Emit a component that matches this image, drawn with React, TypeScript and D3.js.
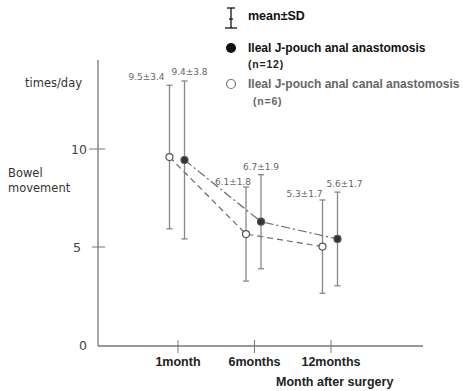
import React, { useRef, useEffect } from 'react';
import * as d3 from 'd3';

// categories on the x axis
const months = ['1month', '6months', '12months'];

// ileal J-pouch anal anastomosis (filled dots, n=12) - plotted means / SD as drawn
const anaMeans = [9.44, 6.29, 5.41];
const anaSD = [4.03, 2.4, 2.39];
const anaLabels = ['9.4±3.8', '6.7±1.9', '5.6±1.7'];

// ileal J-pouch anal canal anastomosis (open dots, n=6)
const canalMeans = [9.59, 5.66, 5.02];
const canalSD = [3.66, 2.4, 2.38];
const canalLabels = ['9.5±3.4', '6.1±1.8', '5.3±1.7'];

const yTicks = [0, 5, 10];

const W = 463;
const H = 391;

const App = () => {
    const svg = useRef<SVGSVGElement>(null);

    useEffect(() => {
        const root = d3.select(svg.current);
        root.selectAll('*').remove();

        const axisX0 = 98;
        const axisY0 = 346;

        const x = d3.scalePoint<string>().domain(months).range([178, 331]);
        const y = d3.scaleLinear().domain([0, 10]).range([345, 149]);

        const bold = "'Liberation Sans', Arial, sans-serif";
        const wide = "'DejaVu Sans', sans-serif";

        // axes lines
        root.append('line')
            .attr('x1', axisX0).attr('y1', 60)
            .attr('x2', axisX0).attr('y2', axisY0)
            .attr('stroke', '#777').attr('stroke-width', 1.3);
        root.append('line')
            .attr('x1', axisX0).attr('y1', axisY0)
            .attr('x2', 423).attr('y2', axisY0)
            .attr('stroke', '#777').attr('stroke-width', 1.3);

        // y ticks
        yTicks.forEach(t => {
            if (t > 0) {
                root.append('line')
                    .attr('x1', t === 10 ? 89 : 92).attr('x2', 105)
                    .attr('y1', y(t)).attr('y2', y(t))
                    .attr('stroke', '#777').attr('stroke-width', 1);
            }
            root.append('text')
                .attr('x', t === 5 ? 81 : 87).attr('y', y(t) + 4.5)
                .attr('text-anchor', 'end')
                .attr('font-family', wide).attr('font-size', 12.5)
                .attr('fill', '#444')
                .text(t);
        });

        // x ticks
        months.forEach(m => {
            root.append('line')
                .attr('x1', x(m)!).attr('x2', x(m)!)
                .attr('y1', 340).attr('y2', 353)
                .attr('stroke', '#777').attr('stroke-width', 1);
            root.append('text')
                .attr('x', x(m)!).attr('y', 366)
                .attr('text-anchor', 'middle')
                .attr('font-family', bold).attr('font-size', 12.5)
                .attr('font-weight', 'bold').attr('fill', '#222')
                .text(m);
        });

        // axis titles
        root.append('text')
            .attr('x', 276).attr('y', 386)
            .attr('font-family', bold).attr('font-size', 12.5)
            .attr('font-weight', 'bold').attr('fill', '#222')
            .text('Month after surgery');
        root.append('text')
            .attr('x', 25).attr('y', 87)
            .attr('font-family', wide).attr('font-size', 11.5)
            .attr('fill', '#333')
            .text('times/day');
        root.append('text')
            .attr('x', 8).attr('y', 177)
            .attr('font-family', wide).attr('font-size', 11.5)
            .attr('fill', '#333')
            .text('Bowel');
        root.append('text')
            .attr('x', 8).attr('y', 192)
            .attr('font-family', wide).attr('font-size', 11.5)
            .attr('fill', '#333')
            .text('movement');

        // each series: dx = offset from the month tick, dash = line style
        const series = [
            { means: canalMeans, sd: canalSD, labels: canalLabels, dx: -8.5, dash: '6,4', filled: false,
              nudge: [[-23, -5], [-13, -2], [-18, -3]] },
            { means: anaMeans, sd: anaSD, labels: anaLabels, dx: 6.5, dash: '9,3,2,3', filled: true,
              nudge: [[5, -6], [0, -5], [7, -5]] },
        ];

        series.forEach(s => {
            const px = (i: number) => x(months[i])! + s.dx;

            // error bars
            s.means.forEach((m, i) => {
                const top = y(m + s.sd[i]);
                const bot = y(m - s.sd[i]);
                const g = root.append('g').attr('stroke', '#888').attr('stroke-width', 1.3);
                g.append('line').attr('x1', px(i)).attr('x2', px(i)).attr('y1', top).attr('y2', bot);
                g.append('line').attr('x1', px(i) - 3).attr('x2', px(i) + 3).attr('y1', top).attr('y2', top);
                g.append('line').attr('x1', px(i) - 3).attr('x2', px(i) + 3).attr('y1', bot).attr('y2', bot);

                root.append('text')
                    .attr('x', px(i) + s.nudge[i][0])
                    .attr('y', top + s.nudge[i][1])
                    .attr('text-anchor', 'middle')
                    .attr('font-family', wide).attr('font-size', 9)
                    .attr('fill', '#666')
                    .text(s.labels[i]);
            });

            // connecting line
            const line = d3.line<number>()
                .x((_, i) => px(i))
                .y(d => y(d));
            root.append('path')
                .datum(s.means)
                .attr('d', line)
                .attr('fill', 'none')
                .attr('stroke', '#666')
                .attr('stroke-width', 1.2)
                .attr('stroke-dasharray', s.dash);

            // points
            s.means.forEach((m, i) => {
                root.append('circle')
                    .attr('cx', px(i)).attr('cy', y(m))
                    .attr('r', 3.5)
                    .attr('fill', s.filled ? '#333' : '#fff')
                    .attr('stroke', '#555')
                    .attr('stroke-width', 1.2);
            });
        });

        // legend
        const lg = root.append('g');
        lg.append('line').attr('x1', 231).attr('x2', 231).attr('y1', 8).attr('y2', 28)
            .attr('stroke', '#111').attr('stroke-width', 1.3);
        lg.append('line').attr('x1', 227).attr('x2', 235).attr('y1', 8).attr('y2', 8)
            .attr('stroke', '#111').attr('stroke-width', 1.3);
        lg.append('line').attr('x1', 225).attr('x2', 237).attr('y1', 28).attr('y2', 28)
            .attr('stroke', '#111').attr('stroke-width', 1.3);
        lg.append('line').attr('x1', 229).attr('x2', 233).attr('y1', 19).attr('y2', 19)
            .attr('stroke', '#111').attr('stroke-width', 1.3);
        lg.append('text').attr('x', 248).attr('y', 20)
            .attr('font-family', bold).attr('font-size', 12.5).attr('font-weight', 'bold')
            .attr('fill', '#111').text('mean±SD');

        lg.append('circle').attr('cx', 231).attr('cy', 48).attr('r', 5).attr('fill', '#111');
        lg.append('text').attr('x', 248).attr('y', 52)
            .attr('font-family', bold).attr('font-size', 12).attr('font-weight', 'bold')
            .attr('fill', '#111').text('Ileal J-pouch anal anastomosis');
        lg.append('text').attr('x', 248).attr('y', 68)
            .attr('font-family', bold).attr('font-size', 10.5).attr('font-weight', 'bold')
            .attr('letter-spacing', 0.8)
            .attr('fill', '#222').text('(n=12)');

        lg.append('circle').attr('cx', 231).attr('cy', 84).attr('r', 4.5)
            .attr('fill', '#fff').attr('stroke', '#777').attr('stroke-width', 1.2);
        lg.append('text').attr('x', 248).attr('y', 88)
            .attr('font-family', bold).attr('font-size', 12).attr('font-weight', 'bold')
            .attr('fill', '#666').text('Ileal J-pouch anal canal anastomosis');
        lg.append('text').attr('x', 253).attr('y', 105)
            .attr('font-family', bold).attr('font-size', 10.5).attr('font-weight', 'bold')
            .attr('letter-spacing', 0.8)
            .attr('fill', '#666').text('(n=6)');
    }, []);

    return (
        <svg
            width={W}
            height={H}
            ref={svg}
            style={{ position: 'absolute', left: 0, top: 0, background: '#fff' }}
        >
        </svg>
    );
};

export default App;
